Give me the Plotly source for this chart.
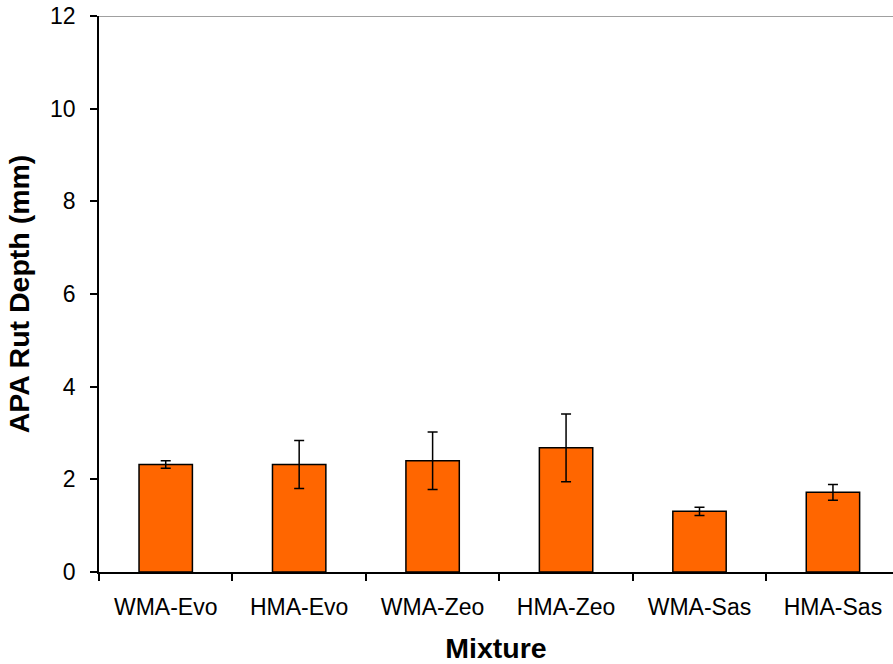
import plotly.graph_objects as go

categories = ["WMA-Evo", "HMA-Evo", "WMA-Zeo", "HMA-Zeo", "WMA-Sas", "HMA-Sas"]
rut_depth = [2.32, 2.32, 2.40, 2.68, 1.31, 1.72]
error = [0.08, 0.52, 0.62, 0.73, 0.09, 0.17]
y_ticks = [0, 2, 4, 6, 8, 10, 12]

FONT = "Liberation Sans, Arial, sans-serif"

fig = go.Figure()
fig.add_trace(go.Bar(
    x=categories,
    y=rut_depth,
    marker=dict(color="#FF6600", line=dict(color="black", width=1.5)),
    error_y=dict(type="data", array=error, symmetric=True,
                 color="black", thickness=1.5, width=5),
    showlegend=False,
))

fig.update_layout(
    width=893, height=664,
    margin=dict(l=99, r=0, t=16, b=92),
    paper_bgcolor="white", plot_bgcolor="white",
    bargap=0.6,
    font=dict(family=FONT, color="black", size=23),
    xaxis=dict(
        type="category",
        range=[-0.5, 5.45],
        tickson="boundaries",
        ticks="outside", ticklen=7, tickwidth=1.5, tickcolor="black",
        showline=True, linecolor="black", linewidth=1.5,
        showgrid=False, zeroline=False,
        tickfont=dict(family=FONT, size=23, color="black"),
        ticklabelstandoff=14,
        title=dict(text="<b>Mixture</b>", font=dict(family=FONT, size=28.5, color="black"), standoff=20),
    ),
    yaxis=dict(
        range=[0, 12],
        tickvals=y_ticks,
        ticktext=[str(v) for v in y_ticks],
        ticks="outside", ticklen=7, tickwidth=1.5, tickcolor="black",
        showline=True, linecolor="black", linewidth=1.5,
        showgrid=False, zeroline=False,
        tickfont=dict(family=FONT, size=23, color="black"),
        ticklabelstandoff=10,
        title=dict(text="<b>APA Rut Depth (mm)</b>", font=dict(family=FONT, size=28.5, color="black"), standoff=12),
    ),
    shapes=[dict(type="line", xref="paper", yref="y", x0=0, x1=1, y0=12, y1=12,
                 line=dict(color="#808080", width=1.5))],
)

fig.write_html("out.html", config={"displayModeBar": False},
               post_script="document.body.style.margin='0';document.body.style.overflow='hidden';")
